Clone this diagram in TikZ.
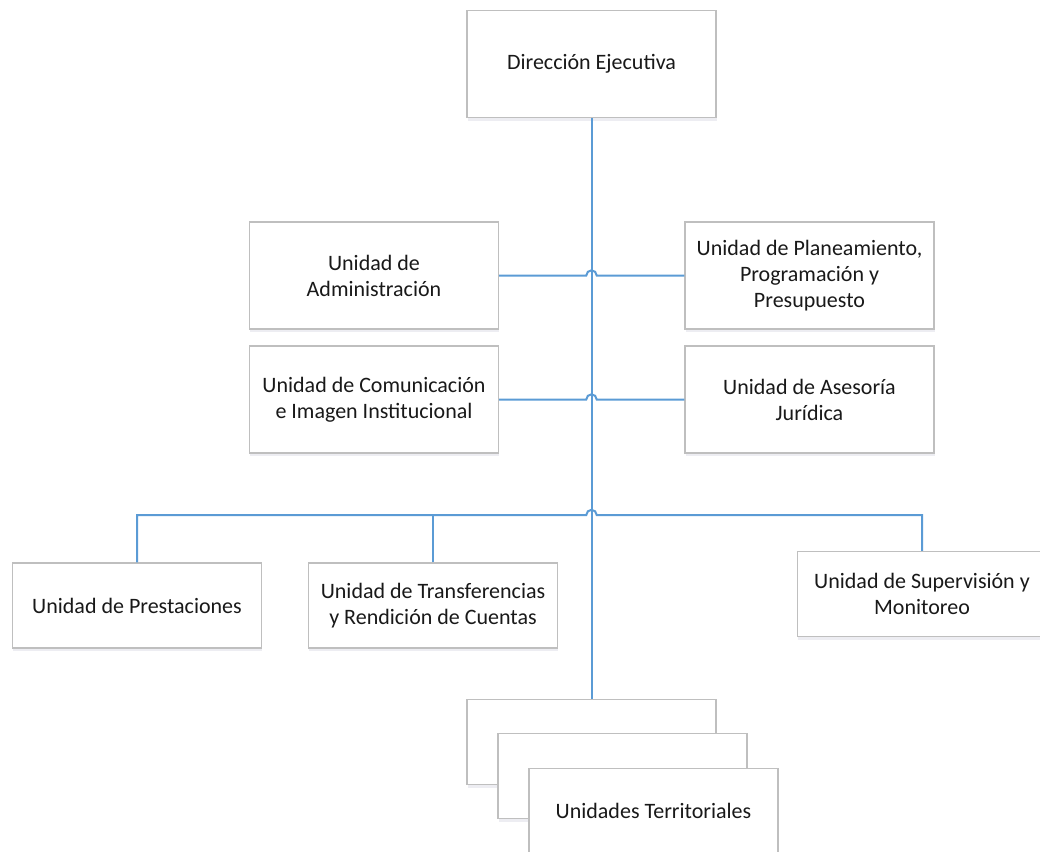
\documentclass[tikz,border=0pt]{standalone}
\usepackage{fontspec}
\setmainfont{Carlito}
\usetikzlibrary{shadows}
\definecolor{linkblue}{RGB}{91,155,213}

\begin{document}
\begin{tikzpicture}[
        x=0.5pt, y=-0.5pt,
        unit/.style={draw=black!25, line width=0.6pt, fill=white,
            minimum width=124.5pt, minimum height=53.5pt, align=center,
            font=\fontsize{11}{13}\selectfont, text=black!90,
            drop shadow={shadow xshift=0.4pt, shadow yshift=-1.6pt,
                fill=blue!25!black!20, opacity=0.35}},
        short/.style={unit, minimum height=42.5pt},
        link/.style={draw=linkblue, line width=1pt},
        hop/.style={start angle=180, end angle=0, radius=2.6pt},
    ]
        \useasboundingbox (0,0) rectangle (1040,852);

        \node[unit] (dir) at (591.5,64) {Dirección Ejecutiva};
        \node[unit] (adm) at (374,275.5) {Unidad de\\Administración};
        \node[unit] (plan) at (809.5,275.5) {Unidad de Planeamiento,\\Programación y\\Presupuesto};
        \node[unit] (com) at (374,399.5) {Unidad de Comunicación\\e Imagen Institucional};
        \node[unit] (ases) at (809.5,399.5) {Unidad de Asesoría\\Jurídica};
        \node[short] (prest) at (137,605.5) {Unidad de Prestaciones};
        \node[short] (trans) at (433,605.5) {Unidad de Transferencias\\y Rendición de Cuentas};
        \node[short] (sup) at (922,594) {Unidad de Supervisión y\\Monitoreo};

        \coordinate (hopa) at (adm.east -| dir.south);
        \coordinate (hopb) at (com.east -| dir.south);
        \coordinate (bus) at (591.5,515);

        \draw[link] (adm.east) -- ([xshift=-2.6pt]hopa) arc[hop] -- (plan.west);
        \draw[link] (com.east) -- ([xshift=-2.6pt]hopb) arc[hop] -- (ases.west);
        \draw[link] (prest.north) |- ([xshift=-2.6pt]bus) arc[hop] -| (sup.north);
        \draw[link] (trans.north) -- (trans.north |- bus);

        \node[short] (terra) at (591.5,742) {};
        \node[short] (terrb) at (622.5,776) {};
        \node[short] (terrc) at (653.5,811) {Unidades Territoriales};

        \draw[link] (dir.south) -- (terra.north);
\end{tikzpicture}
\end{document}
